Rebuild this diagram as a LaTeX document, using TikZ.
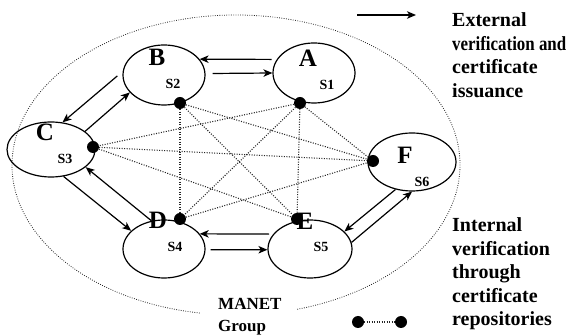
\documentclass[tikz,border=0pt]{standalone}
\usepackage{fontspec}
\usepackage{graphicx}
\setmainfont{Liberation Serif}
\usetikzlibrary{arrows.meta,shapes.geometric}

\begin{document}
\begin{tikzpicture}[x=1pt,y=-1pt,
  station/.style={draw, ellipse, line width=1.2pt, inner sep=0pt},
  repo/.style={circle, fill=black, inner sep=0pt, minimum size=12pt},
  link/.style={line width=1.1pt, black!85, dash pattern=on 1pt off 1.5pt},
  boundary/.style={line width=0.8pt, black!85, dash pattern=on 0.8pt off 1.5pt},
  conn/.style={-{Stealth[length=9pt,width=7.5pt,inset=2.5pt]}, line width=1.2pt},
  letter/.style={inner sep=0pt, font=\fontsize{25}{25}\selectfont\bfseries},
  subtag/.style={inner sep=0pt, font=\fontsize{14}{14}\selectfont\bfseries},
  legend/.style={inner sep=0pt, align=left, font=\fontsize{20}{23.5}\selectfont\bfseries},
  grouptag/.style={inner sep=0pt, align=left, font=\fontsize{17}{22}\selectfont\bfseries}]

\useasboundingbox (0,0) rectangle (568,336);

% MANET group boundary, open at the bottom for its label
\coordinate (groupCentre) at (236,165);
\draw[boundary] (groupCentre) ++(99.3:224 and 150)
  arc[start angle=99.3, end angle=434.2, x radius=224, y radius=150];

% stations
\node[station, minimum width=82pt, minimum height=60pt] (A) at (314,73) {};
\node[station, minimum width=82pt, minimum height=60pt] (B) at (164,75) {};
\node[station, minimum width=88pt, minimum height=55pt] (C) at (51,149.5) {};
\node[station, minimum width=82pt, minimum height=58pt] (D) at (164,249) {};
\node[station, minimum width=84pt, minimum height=58pt] (E) at (310,249) {};
\node[station, minimum width=88pt, minimum height=58pt] (F) at (412,162) {};

% certificate repositories
\node[repo] (rA) at (300,103) {};
\node[repo] (rB) at (180,103) {};
\node[repo] (rC) at (93,147) {};
\node[repo] (rD) at (180,219) {};
\node[repo] (rE) at (297,219) {};
\node[repo] (rF) at (373,161) {};

% internal verification paths
\draw[link] (rB) -- (rD);
\draw[link] (rB) -- (rE);
\draw[link] (rB) -- (rF);
\draw[link] (rA) -- (rE);
\draw[link] (rA) -- (rD);
\draw[link] (rA) -- (rF);
\draw[link] (rA) -- (rC);
\draw[link] (rC) -- (rF);
\draw[link] (rC) -- (rE);
\draw[link] (rD) -- (rF);

% external verification and issuance
\draw[conn, shorten <=5pt] (A.160) -- (B.24);
\draw[conn, shorten <=7pt] (B.2) -- (A.180);
\draw[conn, shorten <=7pt] (B.175) -- (C.67);
\draw[conn] (C.28) -- (B.207);
\draw[conn] (C.295) -- (D.151);
\draw[conn] (D.114) -- (C.333);
\draw[conn, shorten <=4pt] (E.158) -- (D.23);
\draw[conn, shorten <=5pt] (D.-1) -- (E.181);
\draw[conn] (F.239) -- (E.27);
\draw[conn] (E.9) -- (F.270);

% station names
\node[letter] (nA) at (308,58) {A};
\node[letter] (nB) at (157,57) {B};
\node[letter] (nC) at (45,132) {C};
\node[letter] (nD) at (158,220) {D};
\node[letter] (nE) at (305,221) {E};
\node[letter] (nF) at (405,155) {F};
\node[subtag] (sA) at (327,85) {S1};
\node[subtag] (sB) at (173,84) {S2};
\node[subtag] (sC) at (65,159) {S3};
\node[subtag] (sD) at (175,247) {S4};
\node[subtag] (sE) at (321,247) {S5};
\node[subtag] (sF) at (422,182) {S6};

% key
\coordinate (keyTail) at (357,15);
\coordinate (keyHead) at (416,15);
\draw[conn] (keyTail) -- (keyHead);
\node[legend, anchor=north west] (keyExt) at (452,12.5)
  {External\\\scalebox{0.845}[1]{verification and}\\certificate\\issuance};

\node[repo] (kL) at (358,322) {};
\node[repo] (kR) at (401,322) {};
\draw[link] (kL) -- (kR);
\node[legend, anchor=north west] (keyInt) at (452,217.5)
  {Internal\\verification\\through\\certificate\\repositories};

\node[grouptag, anchor=north west] (groupName) at (218,298.5) {MANET\\Group};
\end{tikzpicture}
\end{document}
